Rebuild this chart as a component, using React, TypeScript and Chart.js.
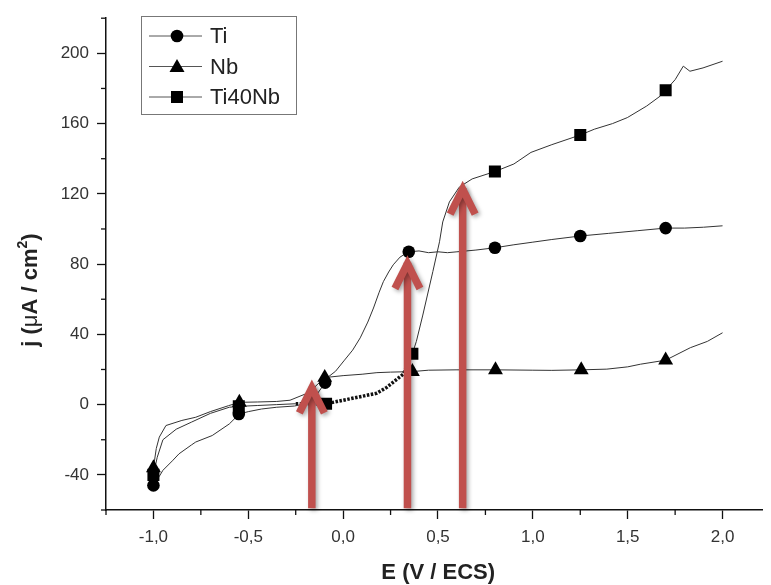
import React, { useEffect, useRef } from "react";
import { Chart, registerables } from "chart.js";

Chart.register(...registerables);

// ---- data ----
const seriesLabels = ["Ti", "Nb", "Ti40Nb"];

const tiCurve: [number, number][] = [
  [-1.0, -46], [-0.97, -41], [-0.95, -37.4], [-0.9, -32], [-0.865, -28], [-0.8, -23],
  [-0.777, -21.3], [-0.69, -17.6], [-0.6, -11], [-0.547, -5.3], [-0.5, -4], [-0.43, -2.5],
  [-0.35, -1.5], [-0.256, -0.8], [-0.2, 0.5], [-0.15, 4], [-0.095, 12.5], [-0.083, 15.4],
  [-0.04, 19], [0.004, 24.9], [0.05, 31], [0.09, 38], [0.13, 47], [0.16, 55], [0.19, 64],
  [0.212, 70], [0.24, 75.5], [0.264, 79.6], [0.3, 84], [0.346, 87], [0.4, 87.5], [0.45, 86.5],
  [0.5, 87], [0.55, 86.5], [0.6, 87], [0.65, 87.5], [0.7, 88], [0.8, 89.3], [0.9, 91],
  [1.0, 92.5], [1.1, 94], [1.25, 96], [1.4, 97.5], [1.55, 99], [1.7, 100.5], [1.8, 100.5],
  [1.9, 101], [2.0, 101.8],
];
const nbCurve: [number, number][] = [
  [-1.0, -36], [-0.985, -25], [-0.969, -18.5], [-0.934, -11.9], [-0.85, -9], [-0.777, -7.2],
  [-0.7, -4], [-0.604, -0.6], [-0.547, 1.3], [-0.45, 1.5], [-0.35, 1.8], [-0.28, 2.5],
  [-0.2, 6], [-0.15, 10], [-0.097, 15.4], [0.0, 16.5], [0.1, 17.3], [0.178, 18.2],
  [0.25, 18.5], [0.365, 18.8], [0.45, 19.6], [0.6, 19.8], [0.803, 19.8], [1.0, 19.6],
  [1.1, 19.5], [1.255, 19.8], [1.39, 20.2], [1.5, 21.5], [1.567, 23], [1.7, 25.3],
  [1.83, 32.4], [1.92, 36], [2.0, 40.9],
];
const ti40NbCurve: [number, number][] = [
  [-1.0, -40], [-0.98, -30], [-0.95, -20], [-0.88, -14], [-0.8, -10], [-0.7, -5],
  [-0.6, -1.5], [-0.55, -1], [-0.45, -0.5], [-0.35, 0], [-0.25, 0.5], [-0.09, 0.5],
  [0.0, 2.5], [0.09, 4.5], [0.178, 6.5], [0.23, 9.8], [0.317, 17.3], [0.365, 29],
  [0.386, 36], [0.42, 51], [0.473, 75.8], [0.508, 92.7], [0.525, 104], [0.56, 115.4],
  [0.612, 123.8], [0.68, 128.5], [0.8, 132.7], [0.9, 137], [0.99, 143.6], [1.1, 148],
  [1.25, 153.5], [1.324, 156.8], [1.42, 160], [1.498, 163.4], [1.6, 170], [1.672, 175.7],
  [1.7, 179], [1.75, 185], [1.793, 192.7], [1.828, 189.8], [1.897, 191.7], [2.0, 195.5],
];

const tiMarkers: [number, number][] = [
  [-1.0, -46], [-0.55, -5.3], [-0.095, 12.5], [0.346, 87], [0.8, 89.3], [1.25, 96], [1.7, 100.5],
];
const nbMarkers: [number, number][] = [
  [-1.0, -36], [-0.547, 1.3], [-0.097, 15.4], [0.365, 18.8], [0.803, 19.8], [1.255, 19.8], [1.7, 25.3],
];
const ti40NbMarkers: [number, number][] = [
  [-1.0, -40], [-0.55, -1], [-0.09, 0.5], [0.365, 29], [0.8, 132.7], [1.25, 153.5], [1.7, 179],
];

// thick noisy zone of the Ti40Nb curve (x range)
const ti40NbNoisyZone = [-0.3, 0.33];

// red arrows: x position, tip value, base value
const arrowX = [-0.165, 0.339, 0.63];
const arrowTipY = [13.5, 84.3, 126.7];
const arrowBaseY = -59;

// axes
const xMin = -1.25;
const xMax = 2.21;
const yMin = -60;
const yMax = 220;
const xTickValues = [-1.0, -0.5, 0.0, 0.5, 1.0, 1.5, 2.0];
const yTickValues = [-40, 0, 40, 80, 120, 160, 200];
const xMinorValues = [-1.25, -0.75, -0.25, 0.25, 0.75, 1.25, 1.75];
const yMinorValues = [-60, -20, 20, 60, 100, 140, 180, 220];

const xTitle = "E (V / ECS)";
const yTitleParts = ["j (", "\u03bc", "A / cm", "2", ")"];

const FONT = '"Liberation Sans", Arial, Helvetica, sans-serif';
const toPts = (arr: [number, number][]) => arr.map(([x, y]) => ({ x, y }));

const overlayPlugin = {
  id: "overlay",
  afterDatasetsDraw(chart: any) {
    const { ctx, scales } = chart;
    const xs = scales.x;
    const ys = scales.y;
    // arrows
    ctx.save();
    ctx.shadowColor = "rgba(0,0,0,0.35)";
    ctx.shadowBlur = 4;
    ctx.shadowOffsetX = 2;
    ctx.shadowOffsetY = 2;
    ctx.strokeStyle = "#C0504D";
    ctx.lineWidth = 7.5;
    ctx.lineCap = "butt";
    ctx.lineJoin = "miter";
    arrowX.forEach((ax, i) => {
      const px = xs.getPixelForValue(ax);
      const tip = ys.getPixelForValue(arrowTipY[i]);
      const base = ys.getPixelForValue(arrowBaseY);
      ctx.beginPath();
      ctx.moveTo(px, base);
      ctx.lineTo(px, tip + 6);
      ctx.stroke();
      ctx.beginPath();
      ctx.moveTo(px - 12.5, tip + 32);
      ctx.lineTo(px, tip + 7);
      ctx.lineTo(px + 12.5, tip + 32);
      ctx.stroke();
    });
    ctx.restore();
  },
  afterDraw(chart: any) {
    const { ctx, scales, chartArea } = chart;
    const xs = scales.x;
    const ys = scales.y;
    ctx.save();
    // minor ticks
    ctx.strokeStyle = "#111";
    ctx.lineWidth = 1.3;
    xMinorValues.forEach((v) => {
      if (v > xMax) return;
      const px = xs.getPixelForValue(v);
      ctx.beginPath();
      ctx.moveTo(px, chartArea.bottom);
      ctx.lineTo(px, chartArea.bottom + 5);
      ctx.stroke();
    });
    yMinorValues.forEach((v) => {
      const py = ys.getPixelForValue(v);
      ctx.beginPath();
      ctx.moveTo(chartArea.left, py);
      ctx.lineTo(chartArea.left - 5, py);
      ctx.stroke();
    });

    // legend
    const lx = 141, ly = 16, lw = 155, lh = 98;
    ctx.fillStyle = "#fff";
    ctx.fillRect(lx, ly, lw, lh);
    ctx.strokeStyle = "#777";
    ctx.lineWidth = 1;
    ctx.strokeRect(lx + 0.5, ly + 0.5, lw, lh);
    const styles = ["circle", "triangle", "rect"];
    seriesLabels.forEach((lab, i) => {
      const cy = 36 + i * 30.5;
      ctx.strokeStyle = "#555";
      ctx.lineWidth = 1;
      ctx.beginPath();
      ctx.moveTo(149, cy);
      ctx.lineTo(202, cy);
      ctx.stroke();
      ctx.fillStyle = "#000";
      const mx = 177;
      ctx.beginPath();
      if (styles[i] === "circle") {
        ctx.arc(mx, cy, 6.3, 0, Math.PI * 2);
      } else if (styles[i] === "triangle") {
        ctx.moveTo(mx, cy - 7.5);
        ctx.lineTo(mx + 7.5, cy + 5.5);
        ctx.lineTo(mx - 7.5, cy + 5.5);
        ctx.closePath();
      } else {
        ctx.rect(mx - 6, cy - 6, 12, 12);
      }
      ctx.fill();
      ctx.fillStyle = "#222";
      ctx.font = `22px ${FONT}`;
      ctx.textBaseline = "middle";
      ctx.textAlign = "left";
      ctx.fillText(lab, 210, cy + 1);
    });

    // x title
    ctx.fillStyle = "#222";
    ctx.font = `bold 22px ${FONT}`;
    ctx.textAlign = "center";
    ctx.textBaseline = "middle";
    ctx.fillText(xTitle, (chartArea.left + chartArea.right) / 2 + 4, 573);

    // y title (rotated)
    ctx.translate(31, 290);
    ctx.rotate(-Math.PI / 2);
    const fonts = [
      `bold 22px ${FONT}`,
      `22px ${FONT}`,
      `bold 22px ${FONT}`,
      `bold 14px ${FONT}`,
      `bold 22px ${FONT}`,
    ];
    const widths = yTitleParts.map((t, i) => {
      ctx.font = fonts[i];
      return ctx.measureText(t).width;
    });
    const total = widths.reduce((a, b) => a + b, 0);
    let cx = -total / 2;
    ctx.textAlign = "left";
    yTitleParts.forEach((t, i) => {
      ctx.font = fonts[i];
      ctx.fillText(t, cx, i === 3 ? -8 : 0);
      cx += widths[i];
    });
    ctx.restore();
  },
};

export default function App() {
  const canvasRef = useRef<HTMLCanvasElement | null>(null);

  useEffect(() => {
    if (!canvasRef.current) return;
    const lineColor = "#333";
    const inZone = (c: any) => {
      const x0 = c.p0.parsed.x;
      return x0 >= ti40NbNoisyZone[0] && x0 < ti40NbNoisyZone[1];
    };
    const chart = new Chart(canvasRef.current, {
      type: "line",
      data: {
        datasets: [
          {
            type: "scatter",
            label: seriesLabels[0],
            data: toPts(tiMarkers),
            pointStyle: "circle",
            pointRadius: 6.3,
            backgroundColor: "#000",
            borderWidth: 0,
            order: 0,
          },
          {
            type: "scatter",
            label: seriesLabels[1],
            data: toPts(nbMarkers),
            pointStyle: "triangle",
            pointRadius: 8.6,
            backgroundColor: "#000",
            borderWidth: 0,
            order: 0,
          },
          {
            type: "scatter",
            label: seriesLabels[2],
            data: toPts(ti40NbMarkers),
            pointStyle: "rect",
            pointRadius: 8.5,
            backgroundColor: "#000",
            borderWidth: 0,
            order: 0,
          },
          {
            label: seriesLabels[0] + " curve",
            data: toPts(tiCurve),
            borderColor: lineColor,
            borderWidth: 1,
            pointRadius: 0,
            tension: 0,
            fill: false,
            order: 1,
          },
          {
            label: seriesLabels[1] + " curve",
            data: toPts(nbCurve),
            borderColor: lineColor,
            borderWidth: 1,
            pointRadius: 0,
            tension: 0,
            fill: false,
            order: 1,
          },
          {
            label: seriesLabels[2] + " curve",
            data: toPts(ti40NbCurve),
            borderColor: lineColor,
            borderWidth: 1,
            pointRadius: 0,
            tension: 0,
            fill: false,
            order: 1,
            segment: {
              borderWidth: (c: any) => (inZone(c) ? 3.5 : 1),
              borderColor: (c: any) => (inZone(c) ? "#111" : lineColor),
              borderDash: (c: any) => (inZone(c) ? [2.5, 1.5] : []),
            },
          },
        ],
      },
      options: {
        animation: false,
        responsive: true,
        maintainAspectRatio: false,
        layout: { padding: { left: 0, top: 15, right: 0, bottom: 0 } },
        plugins: {
          legend: { display: false },
          tooltip: { enabled: false },
          title: { display: false },
        },
        scales: {
          x: {
            type: "linear",
            min: xMin,
            max: xMax,
            afterFit: (s: any) => {
              s.height = 75;
            },
            afterBuildTicks: (s: any) => {
              s.ticks = xTickValues.map((v) => ({ value: v }));
            },
            ticks: {
              padding: 8,
              color: "#333",
              font: { family: FONT, size: 17 },
              maxRotation: 0,
              autoSkip: false,
              callback: (v: any) => {
                const n = Number(v);
                if (Math.abs(n) < 1e-9) return "0,0";
                return n.toFixed(1).replace(".", ",");
              },
            },
            grid: {
              display: true,
              drawOnChartArea: false,
              drawTicks: true,
              tickLength: 9,
              tickColor: "#111",
              tickWidth: 1.3,
            },
            border: { display: true, color: "#111", width: 1.5 },
          },
          y: {
            type: "linear",
            min: yMin,
            max: yMax,
            afterFit: (s: any) => {
              s.width = 106;
            },
            afterBuildTicks: (s: any) => {
              s.ticks = yTickValues.map((v) => ({ value: v }));
            },
            ticks: {
              padding: 8,
              color: "#333",
              autoSkip: false,
              font: { family: FONT, size: 17 },
              callback: (v: any) => String(Number(v)),
            },
            grid: {
              display: true,
              drawOnChartArea: false,
              drawTicks: true,
              tickLength: 9,
              tickColor: "#111",
              tickWidth: 1.3,
            },
            border: { display: true, color: "#111", width: 1.5 },
          },
        },
      },
      plugins: [overlayPlugin],
    } as any);
    return () => chart.destroy();
  }, []);

  return (
    <div style={{ position: "fixed", left: 0, top: 0, width: 771, height: 585, background: "#fff" }}>
      <canvas ref={canvasRef} />
    </div>
  );
}
